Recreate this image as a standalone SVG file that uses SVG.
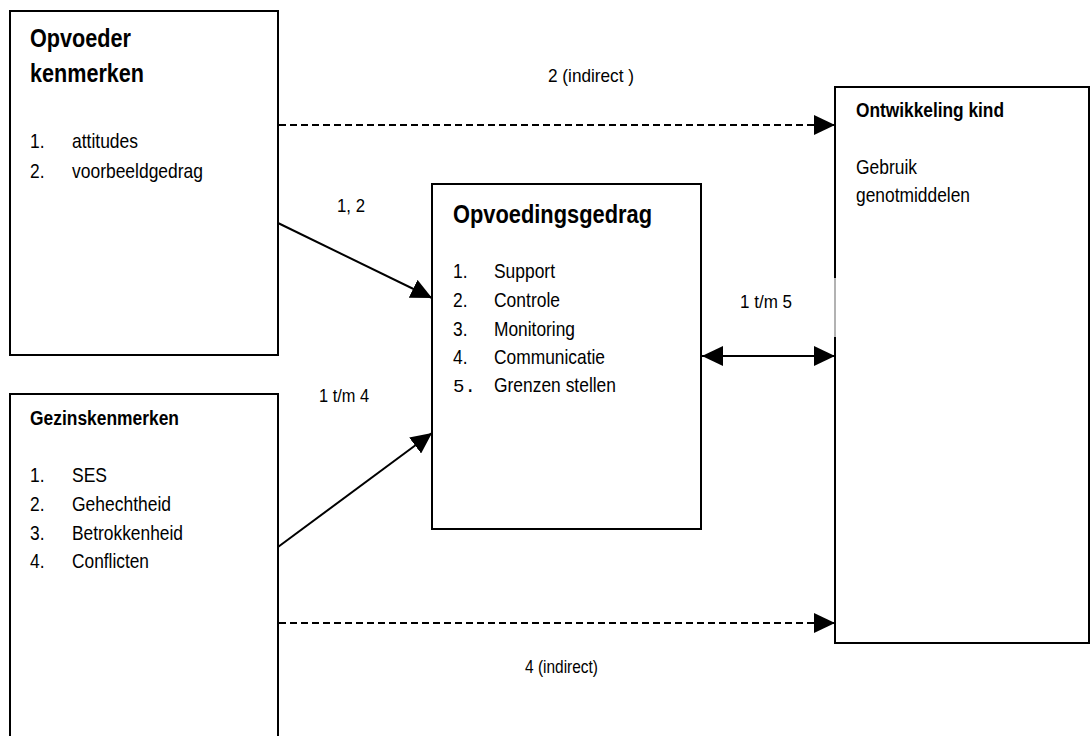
<svg xmlns="http://www.w3.org/2000/svg" width="1091" height="736" viewBox="0 0 1091 736">
<style>
text{font-family:"Liberation Sans Narrow","Arial Narrow","Liberation Sans",sans-serif;fill:#000}
.t{font-size:26px;font-weight:bold}
.h{font-size:20px;font-weight:bold}
.i{font-size:21px}
.l{font-size:19px}
.m{font-family:"Liberation Mono","Courier New",monospace;font-size:19px}
.box{fill:#fff;stroke:#000;stroke-width:2}
.c{fill:none;stroke:#000;stroke-width:2}
.d{stroke-dasharray:7 4}
</style>
<defs>
<marker id="ah" markerUnits="userSpaceOnUse" markerWidth="22" markerHeight="20" refX="21" refY="10" orient="auto-start-reverse" viewBox="0 0 22 20">
<path d="M0,0 L21,10 L0,20 z" fill="#000"/>
</marker>
</defs>
<g id="opvoeder">
<rect class="box" x="10" y="11" width="268" height="344"/>
<text class="t" x="30" y="47" textLength="101" lengthAdjust="spacingAndGlyphs">Opvoeder</text>
<text class="t" x="30" y="82" textLength="114" lengthAdjust="spacingAndGlyphs">kenmerken</text>
<text class="i" x="30" y="148" textLength="14.5" lengthAdjust="spacingAndGlyphs">1.</text><text class="i" x="72" y="148" textLength="66" lengthAdjust="spacingAndGlyphs">attitudes</text>
<text class="i" x="30" y="178" textLength="14.5" lengthAdjust="spacingAndGlyphs">2.</text><text class="i" x="72" y="178" textLength="131" lengthAdjust="spacingAndGlyphs">voorbeeldgedrag</text>
</g>
<g id="gezin">
<path class="box" d="M10,740 V394 H278 V740"/>
<text class="h" x="30" y="425" textLength="149" lengthAdjust="spacingAndGlyphs">Gezinskenmerken</text>
<text class="i" x="30" y="482" textLength="14.5" lengthAdjust="spacingAndGlyphs">1.</text><text class="i" x="72" y="482" textLength="35" lengthAdjust="spacingAndGlyphs">SES</text>
<text class="i" x="30" y="511" textLength="14.5" lengthAdjust="spacingAndGlyphs">2.</text><text class="i" x="72" y="511" textLength="99" lengthAdjust="spacingAndGlyphs">Gehechtheid</text>
<text class="i" x="30" y="540" textLength="14.5" lengthAdjust="spacingAndGlyphs">3.</text><text class="i" x="72" y="540" textLength="111" lengthAdjust="spacingAndGlyphs">Betrokkenheid</text>
<text class="i" x="30" y="568" textLength="14.5" lengthAdjust="spacingAndGlyphs">4.</text><text class="i" x="72" y="568" textLength="77" lengthAdjust="spacingAndGlyphs">Conflicten</text>
</g>
<g id="opvoedingsgedrag">
<rect class="box" x="432" y="184" width="269" height="345"/>
<text class="t" x="453" y="223" textLength="199" lengthAdjust="spacingAndGlyphs">Opvoedingsgedrag</text>
<text class="i" x="453" y="278" textLength="14.5" lengthAdjust="spacingAndGlyphs">1.</text><text class="i" x="494" y="278" textLength="61" lengthAdjust="spacingAndGlyphs">Support</text>
<text class="i" x="453" y="307" textLength="14.5" lengthAdjust="spacingAndGlyphs">2.</text><text class="i" x="494" y="307" textLength="66" lengthAdjust="spacingAndGlyphs">Controle</text>
<text class="i" x="453" y="336" textLength="14.5" lengthAdjust="spacingAndGlyphs">3.</text><text class="i" x="494" y="336" textLength="81" lengthAdjust="spacingAndGlyphs">Monitoring</text>
<text class="i" x="453" y="364" textLength="14.5" lengthAdjust="spacingAndGlyphs">4.</text><text class="i" x="494" y="364" textLength="111" lengthAdjust="spacingAndGlyphs">Communicatie</text>
<text class="m" x="453" y="392">5.</text><text class="i" x="494" y="392" textLength="122" lengthAdjust="spacingAndGlyphs">Grenzen stellen</text>
</g>
<g id="kind">
<path class="box" d="M835,87 H1089 V643 H835"/>
<path class="c" d="M835,86 V278 M835,337 V644"/>
<path d="M835,278 V337" stroke="#999" stroke-width="1.5" fill="none"/>
<text class="h" x="856" y="117" textLength="148" lengthAdjust="spacingAndGlyphs">Ontwikkeling kind</text>
<text class="i" x="856" y="174" textLength="61" lengthAdjust="spacingAndGlyphs">Gebruik</text>
<text class="i" x="856" y="202" textLength="114" lengthAdjust="spacingAndGlyphs">genotmiddelen</text>
</g>
<g id="connectors">
<line class="c d" x1="279" y1="125" x2="835" y2="125" marker-end="url(#ah)"/>
<line class="c d" x1="279" y1="623" x2="835" y2="623" marker-end="url(#ah)"/>
<line class="c" x1="278" y1="223" x2="432" y2="298" marker-end="url(#ah)"/>
<line class="c" x1="278" y1="547" x2="432" y2="433" marker-end="url(#ah)"/>
<line class="c" x1="702" y1="356" x2="835" y2="356" marker-start="url(#ah)" marker-end="url(#ah)"/>
<text class="l" x="548" y="82" textLength="86" lengthAdjust="spacingAndGlyphs">2 (indirect )</text>
<text class="l" x="337" y="212" textLength="28" lengthAdjust="spacingAndGlyphs">1, 2</text>
<text class="l" x="319" y="402" textLength="50" lengthAdjust="spacingAndGlyphs">1 t/m 4</text>
<text class="l" x="740" y="308" textLength="52" lengthAdjust="spacingAndGlyphs">1 t/m 5</text>
<text class="l" x="525" y="673" textLength="73" lengthAdjust="spacingAndGlyphs">4 (indirect)</text>
</g>
</svg>
